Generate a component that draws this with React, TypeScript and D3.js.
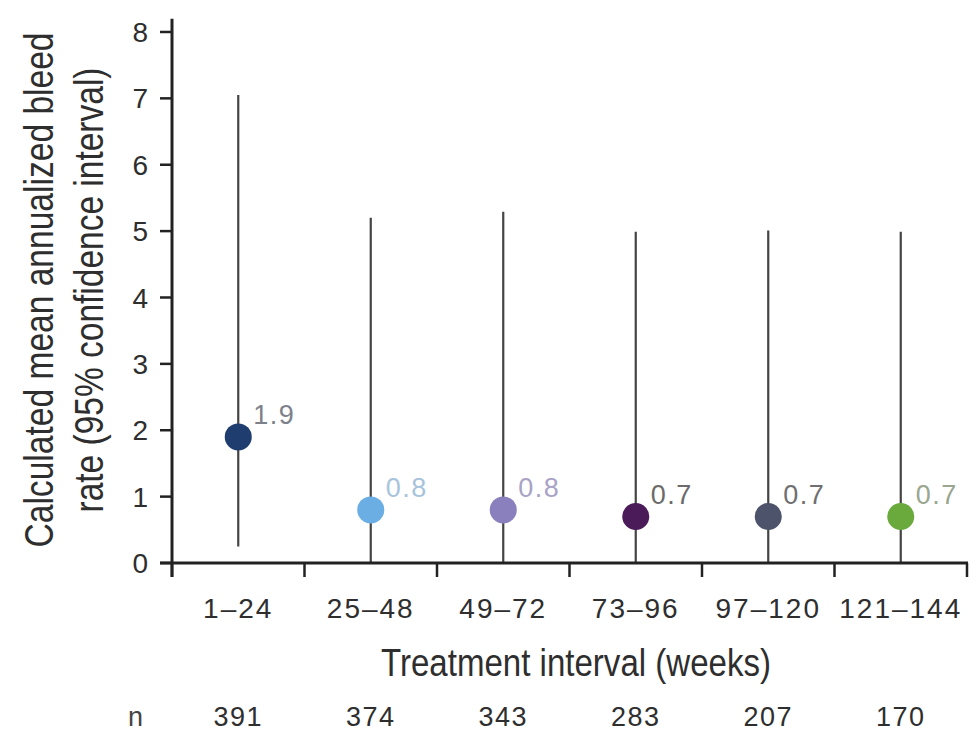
import React from "react";
import * as d3 from "d3";

const categories = ["1–24", "25–48", "49–72", "73–96", "97–120", "121–144"];
const means = [1.9, 0.8, 0.8, 0.7, 0.7, 0.7];
const lowerCI = [0.25, 0, 0, 0, 0, 0];
const upperCI = [7.05, 5.2, 5.29, 4.99, 5.01, 4.99];
const counts = [391, 374, 343, 283, 207, 170];
const yTicks = [0, 1, 2, 3, 4, 5, 6, 7, 8];
const pointColors = ["#1f3d6e", "#6aaee3", "#8a80bd", "#4b1a58", "#4c536b", "#6aaa3c"];
const labelColors = ["#7d818c", "#a8c4dc", "#a9a3c6", "#6b6b6b", "#707070", "#9aa690"];

const W = 980;
const H = 733;
const SQUEEZE = 0.84;

export default function App() {
  const x = d3.scaleBand<string>().domain(categories).range([172, 967]).padding(0);
  const y = d3.scaleLinear().domain([0, 8.2]).range([563, 18.7]);
  const cx = (c: string) => (x(c) as number) + x.bandwidth() / 2;
  const boundaries = [...categories.map((c) => x(c) as number), 967];
  const sans = "'Liberation Sans', Arial, sans-serif";
  const ink = "#2e2e2e";

  return (
    <svg
      width={W}
      height={H}
      style={{ position: "absolute", left: 0, top: 0, background: "#fff" }}
    >
      {/* Y axis title */}
      <text
        transform={`translate(53,290) rotate(-90) scale(${SQUEEZE},1)`}
        textAnchor="middle"
        fontFamily={sans}
        fontSize={40}
        fill={ink}
        textLength={515 / SQUEEZE}
        lengthAdjust="spacingAndGlyphs"
      >
        Calculated mean annualized bleed
      </text>
      <text
        transform={`translate(103,290) rotate(-90) scale(${SQUEEZE},1)`}
        textAnchor="middle"
        fontFamily={sans}
        fontSize={40}
        fill={ink}
        textLength={445 / SQUEEZE}
        lengthAdjust="spacingAndGlyphs"
      >
        rate (95% confidence interval)
      </text>

      {/* Y ticks */}
      {yTicks.map((t) => (
        <g key={t}>
          <line x1={160} x2={172} y1={y(t)} y2={y(t)} stroke="#222" strokeWidth={2.5} />
          <text
            x={148}
            y={y(t)}
            dy="0.36em"
            textAnchor="end"
            fontFamily={sans}
            fontSize={28}
            fill={ink}
          >
            {t}
          </text>
        </g>
      ))}

      {/* X ticks */}
      {boundaries.map((b, i) => (
        <line key={i} x1={b} x2={b} y1={563} y2={577} stroke="#222" strokeWidth={2.5} />
      ))}

      {/* Error bars */}
      {categories.map((c, i) => (
        <line
          key={c}
          x1={cx(c)}
          x2={cx(c)}
          y1={y(lowerCI[i])}
          y2={y(upperCI[i])}
          stroke="#444"
          strokeWidth={2.2}
        />
      ))}

      {/* Axes */}
      <line x1={172} x2={172} y1={y(8.2)} y2={577} stroke="#222" strokeWidth={3} />
      <line x1={160} x2={968} y1={563} y2={563} stroke="#222" strokeWidth={3} />

      {/* Points */}
      {categories.map((c, i) => (
        <circle key={c} cx={cx(c)} cy={y(means[i])} r={13.5} fill={pointColors[i]} />
      ))}

      {/* Value labels */}
      {categories.map((c, i) => (
        <text
          key={c}
          x={cx(c) + 15}
          y={y(means[i]) - 13}
          fontFamily={sans}
          fontSize={27}
          letterSpacing={1.5}
          fill={labelColors[i]}
        >
          {means[i].toFixed(1)}
        </text>
      ))}

      {/* Category labels */}
      {categories.map((c) => (
        <text
          key={c}
          x={cx(c)}
          y={618}
          textAnchor="middle"
          fontFamily={sans}
          fontSize={28}
          letterSpacing={2}
          fill={ink}
        >
          {c}
        </text>
      ))}

      {/* X axis title */}
      <text
        transform={`translate(576,676) scale(${SQUEEZE},1)`}
        textAnchor="middle"
        fontFamily={sans}
        fontSize={39}
        fill={ink}
        textLength={390 / SQUEEZE}
        lengthAdjust="spacingAndGlyphs"
      >
        Treatment interval (weeks)
      </text>

      {/* n row */}
      <text x={128} y={726} fontFamily={sans} fontSize={27} fill="#444">
        n
      </text>
      {categories.map((c, i) => (
        <text
          key={c}
          x={cx(c)}
          y={726}
          textAnchor="middle"
          fontFamily={sans}
          fontSize={27}
          letterSpacing={1.5}
          fill={ink}
        >
          {counts[i]}
        </text>
      ))}
    </svg>
  );
}
